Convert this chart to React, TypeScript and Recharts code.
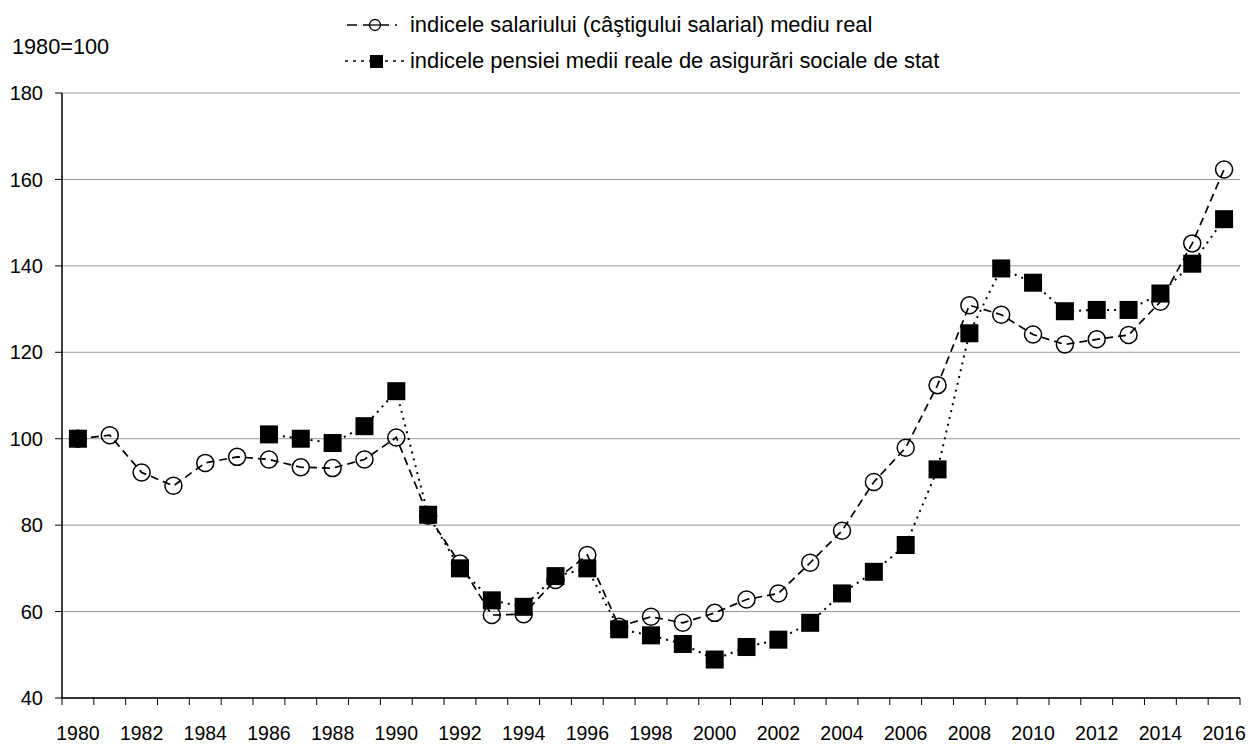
import React from 'react';
import { LineChart, Line, XAxis, YAxis, CartesianGrid } from 'recharts';

// 1980 = 100
const years = [
  1980, 1981, 1982, 1983, 1984, 1985, 1986, 1987, 1988, 1989, 1990, 1991, 1992,
  1993, 1994, 1995, 1996, 1997, 1998, 1999, 2000, 2001, 2002, 2003, 2004, 2005,
  2006, 2007, 2008, 2009, 2010, 2011, 2012, 2013, 2014, 2015, 2016,
];

const salaryIndex = [
  100, 100.8, 92.2, 89.1, 94.4, 95.8, 95.2, 93.4, 93.2, 95.2, 100.3, 82.2, 71.1,
  59.2, 59.4, 67.3, 73.1, 56.5, 58.8, 57.4, 59.7, 62.8, 64.2, 71.3, 78.7, 90.0,
  97.9, 112.4, 130.9, 128.7, 124.1, 121.8, 123.0, 124.0, 131.7, 145.2, 162.3,
];

const pensionIndex = [
  100, null, null, null, null, null, 101, 100, 99, 102.9, 111, 82.4, 70,
  62.6, 61.1, 68.2, 70, 55.9, 54.5, 52.5, 48.9, 51.8, 53.5, 57.4, 64.2, 69.2,
  75.4, 92.9, 124.4, 139.4, 136.1, 129.5, 129.8, 129.8, 133.6, 140.5, 150.8,
];

const yTicks = [40, 60, 80, 100, 120, 140, 160, 180];

const salaryLabel = 'indicele salariului (câştigului salarial) mediu real';
const pensionLabel = 'indicele pensiei medii reale de asigurări sociale de stat';
const baseLabel = '1980=100';

const data = years.map((year, i) => ({
  year,
  salary: salaryIndex[i],
  pension: pensionIndex[i],
}));

// tick marks sit between the years; every second year gets a label in its slot
const edgeTicks = years.map((y) => y - 0.5).concat(years[years.length - 1] + 0.5);
const xDomain = [edgeTicks[0], edgeTicks[edgeTicks.length - 1]];

const CHART_W = 1251;
const CHART_H = 745;
const Y_AXIS_W = 62;
const RIGHT_MARGIN = 11;
const HALF_SLOT = (CHART_W - Y_AXIS_W - RIGHT_MARGIN) / (edgeTicks.length - 1) / 2;

const FONT = '"Liberation Sans", Arial, sans-serif';
const SALARY_DASH = '8 5';
const PENSION_DASH = '2 5';

const SquareDot = (props: any) => {
  const { cx, cy, value, index } = props;
  if (cx == null || cy == null || value == null) return <g key={`sq-${index}`} />;
  return <rect key={`sq-${index}`} x={cx - 9} y={cy - 9} width={18} height={18} fill="#000" />;
};

// label only; the tick mark itself is the axis' own tickLine
const YearTick = (props: any) => {
  const { x, y, index } = props;
  if (!(index < years.length && index % 2 === 0)) return <g />;
  return (
    <text
      x={x + HALF_SLOT}
      y={y + 21}
      dy="0.71em"
      textAnchor="middle"
      fill="#000"
      fontSize={19.5}
      fontFamily={FONT}
    >
      {years[index]}
    </text>
  );
};

export default function App() {
  return (
    <div style={{ position: 'absolute', left: 0, top: 0, width: CHART_W, height: CHART_H, background: '#fff', fontFamily: FONT }}>
      <div style={{ position: 'absolute', left: 12, top: 34, fontSize: 21.7 }}>{baseLabel}</div>
      <svg width={70} height={80} style={{ position: 'absolute', left: 340, top: 0 }}>
        <line x1={7} y1={25} x2={62} y2={25} stroke="#000" strokeWidth={1.5} strokeDasharray="10 6 10 6 10 6 2 6" />
        <circle cx={35} cy={25} r={5.5} fill="#fff" stroke="#000" strokeWidth={1.3} />
        <line x1={35 - 5.5} y1={25} x2={35 + 5.5} y2={25} stroke="#000" strokeWidth={1.3} />
        <line x1={5} y1={61} x2={64} y2={61} stroke="#000" strokeWidth={1.5} strokeDasharray="3 5" />
        <rect x={30} y={55} width={13} height={13} fill="#000" />
      </svg>
      <div style={{ position: 'absolute', left: 410, top: 13, fontSize: 21.9, lineHeight: '24px' }}>
        <div>{salaryLabel}</div>
        <div style={{ marginTop: 12 }}>{pensionLabel}</div>
      </div>
      <div style={{ position: 'absolute', left: 0, top: 0 }}>
        <LineChart width={CHART_W} height={CHART_H} data={data} margin={{ top: 93, right: RIGHT_MARGIN, left: 0, bottom: 0 }}>
          <CartesianGrid horizontal vertical={false} stroke="#999" strokeWidth={1} />
          <XAxis
            type="number"
            dataKey="year"
            domain={xDomain}
            ticks={edgeTicks}
            interval={0}
            height={47}
            tickSize={7}
            tickMargin={0}
            axisLine={{ stroke: '#000', strokeWidth: 1.5 }}
            tickLine={{ stroke: '#000', strokeWidth: 1 }}
            tick={YearTick}
            allowDataOverflow
          />
          <YAxis
            domain={[40, 180]}
            ticks={yTicks}
            width={Y_AXIS_W}
            interval={0}
            tickSize={7}
            tickMargin={12}
            axisLine={{ stroke: '#000', strokeWidth: 1.5 }}
            tickLine={{ stroke: '#000' }}
            tick={{ fill: '#000', fontSize: 20, fontFamily: FONT }}
          />
          <Line
            type="linear"
            dataKey="salary"
            stroke="#000"
            strokeWidth={1.7}
            strokeDasharray={SALARY_DASH}
            dot={{ r: 8.5, fill: 'none', stroke: '#000', strokeWidth: 1.5, strokeDasharray: 'none' }}
            activeDot={false}
            isAnimationActive={false}
          />
          <Line
            type="linear"
            dataKey="pension"
            stroke="#000"
            strokeWidth={2}
            strokeDasharray={PENSION_DASH}
            dot={SquareDot}
            activeDot={false}
            connectNulls={false}
            isAnimationActive={false}
          />
        </LineChart>
      </div>
    </div>
  );
}
